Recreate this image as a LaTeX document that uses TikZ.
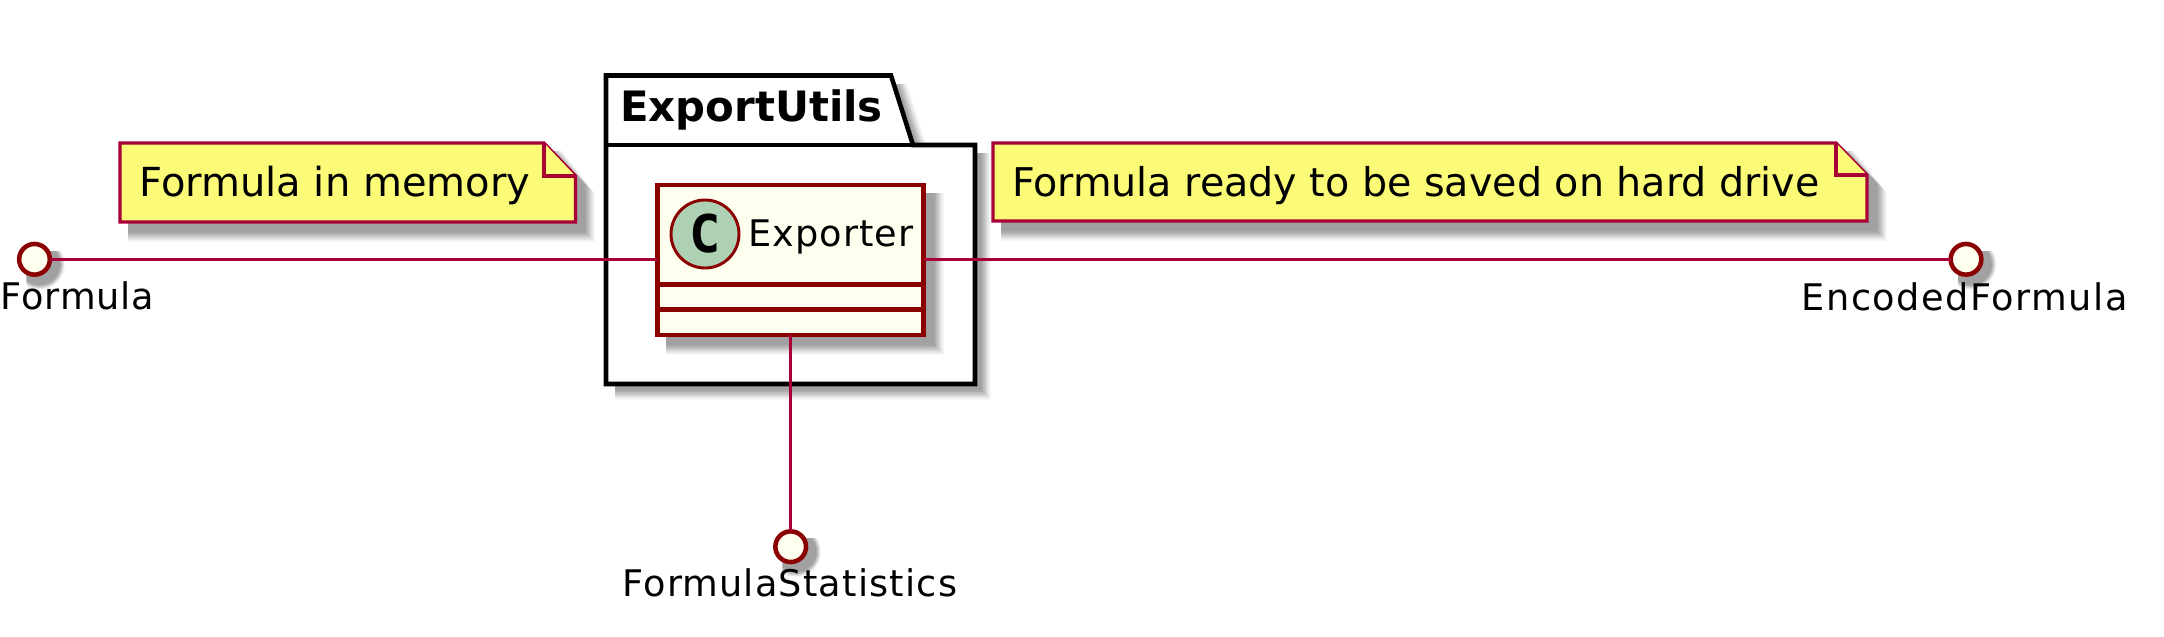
\documentclass[tikz,border=0pt]{standalone}
\usepackage{fontspec}
\setmainfont{DejaVu Sans}
\newfontfamily\labelfont[LetterSpace=3.0]{DejaVu Sans}
\newfontfamily\classmono[Scale=1]{DejaVu Sans Mono}
\definecolor{edgecol}{HTML}{A80036}
\definecolor{ifcol}{HTML}{8B0000}
\definecolor{ivorycol}{HTML}{FFFFF0}
\definecolor{notecol}{HTML}{FBFB77}
\definecolor{spotcol}{HTML}{ADD1B2}
\newcommand{\rectshadow}[4]{%
  \foreach \e/\p in {20/4,18/10,16/18,14/26,12/33,10/37}
    \fill[black!\p] ({#1+8},{#2+8}) rectangle ({#3+\e},{#4+\e});}
% note shadow: x1,y1,foldx,foldy,x2,y2
\newcommand{\noteshadow}[6]{%
  \foreach \e/\p in {20/4,18/10,16/18,14/26,12/33,10/37}
    \fill[black!\p] ({#1+8},{#2+8}) -- ({#3+\e-2},{#2+8}) -- ({#5+\e},{#4+\e-2}) -- ({#5+\e},{#6+\e}) -- ({#1+8},{#6+\e}) -- cycle;}
\newcommand{\roundshadow}[2]{%
  \begin{scope}
  \clip ({#1-8},{#2-8}) rectangle ({#1+40},{#2+40});
  \foreach \e/\p in {8/4,7/10,6/18,5/26,4/33,3/37}
    \fill[black!\p] ({#1+5},{#2+5}) circle[radius={(17.5+\e)*0.75pt}];
  \end{scope}}
\tikzset{
  ifacenode/.style={circle,draw=ifcol,fill=ivorycol,line width=3.4pt,minimum size=23pt,inner sep=0pt,outer sep=0pt},
  lbl/.style={anchor=base west,inner sep=0pt,outer sep=0pt,font=\fontsize{27.5}{30}\selectfont\labelfont},
  notetext/.style={anchor=base west,inner sep=0pt,outer sep=0pt,font=\fontsize{30}{34}\selectfont},
  noteshape/.style={draw=edgecol,fill=notecol,line width=2.4pt},
  link/.style={draw=edgecol,line width=2.2pt},
  classbox/.style={draw=ifcol,fill=ivorycol,line width=3.4pt,minimum width=199.5pt,minimum height=112.5pt,inner sep=0pt,outer sep=0pt},
}
\begin{document}
\begin{tikzpicture}[x=0.75pt,y=-0.75pt]
\useasboundingbox (0,0) rectangle (2164,636);
% shadows
\noteshadow{120}{143}{544}{176}{575}{222}
\noteshadow{993}{143}{1836}{175}{1867}{221}
\foreach \e/\p in {20/4,18/10,16/18,14/26,12/33,10/37}{
  \fill[black!\p] (615,153) rectangle ({975+\e-4},{384+\e-4});
  \fill[black!\p] (615,84) -- ({891+\e-4},84) -- ({913+\e-4},153) -- (615,153) -- cycle;
}
% package
\draw[black,fill=white,line width=3.4pt,line join=miter]
  (606,145) -- (606,75.5) -- (891,75.5) -- (913,145) -- (975,145) -- (975,384) -- (606,384) -- cycle;
\draw[black,line width=3.4pt] (606,145) -- (913,145);
\node[anchor=base west,inner sep=0pt,font=\fontsize{31.4}{36}\selectfont\bfseries] (pkg) at (620,121) {ExportUtils};
% class
\rectshadow{657.5}{185}{923.5}{335}
\node[classbox] (exp) at (790.5,260) {};
\draw[draw=ifcol,line width=3.4pt] (exp.west |- 0,284.5) -- (exp.east |- 0,284.5);
\draw[draw=ifcol,line width=3.4pt] (exp.west |- 0,309.5) -- (exp.east |- 0,309.5);
\node[circle,draw=ifcol,fill=spotcol,line width=2.2pt,minimum size=51pt,inner sep=0pt] (spot) at (705,234) {};
\node[inner sep=0pt,font=\fontsize{39}{42}\selectfont\classmono\bfseries] (spotc) at (705,234) {C};
\node[lbl] (explbl) at (748.5,246.7) {\addfontfeature{LetterSpace=2.8}Exporter};
% notes
\draw[noteshape] (120,143) -- (544,143) -- (575.5,176) -- (575.5,222) -- (120,222) -- cycle;
\draw[noteshape] (544,143) -- (544,176) -- (575.5,176);
\node[notetext] (n1) at (139.5,196.7) {Formula in memory};
\draw[noteshape] (993,143) -- (1836,143) -- (1867,175) -- (1867,221) -- (993,221) -- cycle;
\draw[noteshape] (1836,143) -- (1836,175) -- (1867,175);
\node[notetext,font=\fontsize{29.7}{34}\selectfont] (n2) at (1012,196.7) {Formula ready to be saved on hard drive};
% interfaces
\roundshadow{34.5}{259.3}
\roundshadow{1966}{259.3}
\roundshadow{790.7}{546.7}
\node[ifacenode] (fa) at (34.5,259.3) {};
\node[ifacenode] (fb) at (1966,259.3) {};
\node[ifacenode] (fc) at (790.7,546.7) {};
\node[lbl] (la) at (1,309) {\addfontfeature{LetterSpace=2.2}Formula};
\node[lbl] (lb) at (1801.5,310) {\addfontfeature{LetterSpace=4.2}EncodedFormula};
\node[lbl] (lc) at (622.5,596.7) {\addfontfeature{LetterSpace=3.2}FormulaStatistics};
% connectors
\draw[link] (fa) -- (exp.west |- fa.center);
\draw[link] (exp.east |- fb.center) -- (fb);
\draw[link] (exp.south -| fc.center) -- (fc);
\end{tikzpicture}
\end{document}
